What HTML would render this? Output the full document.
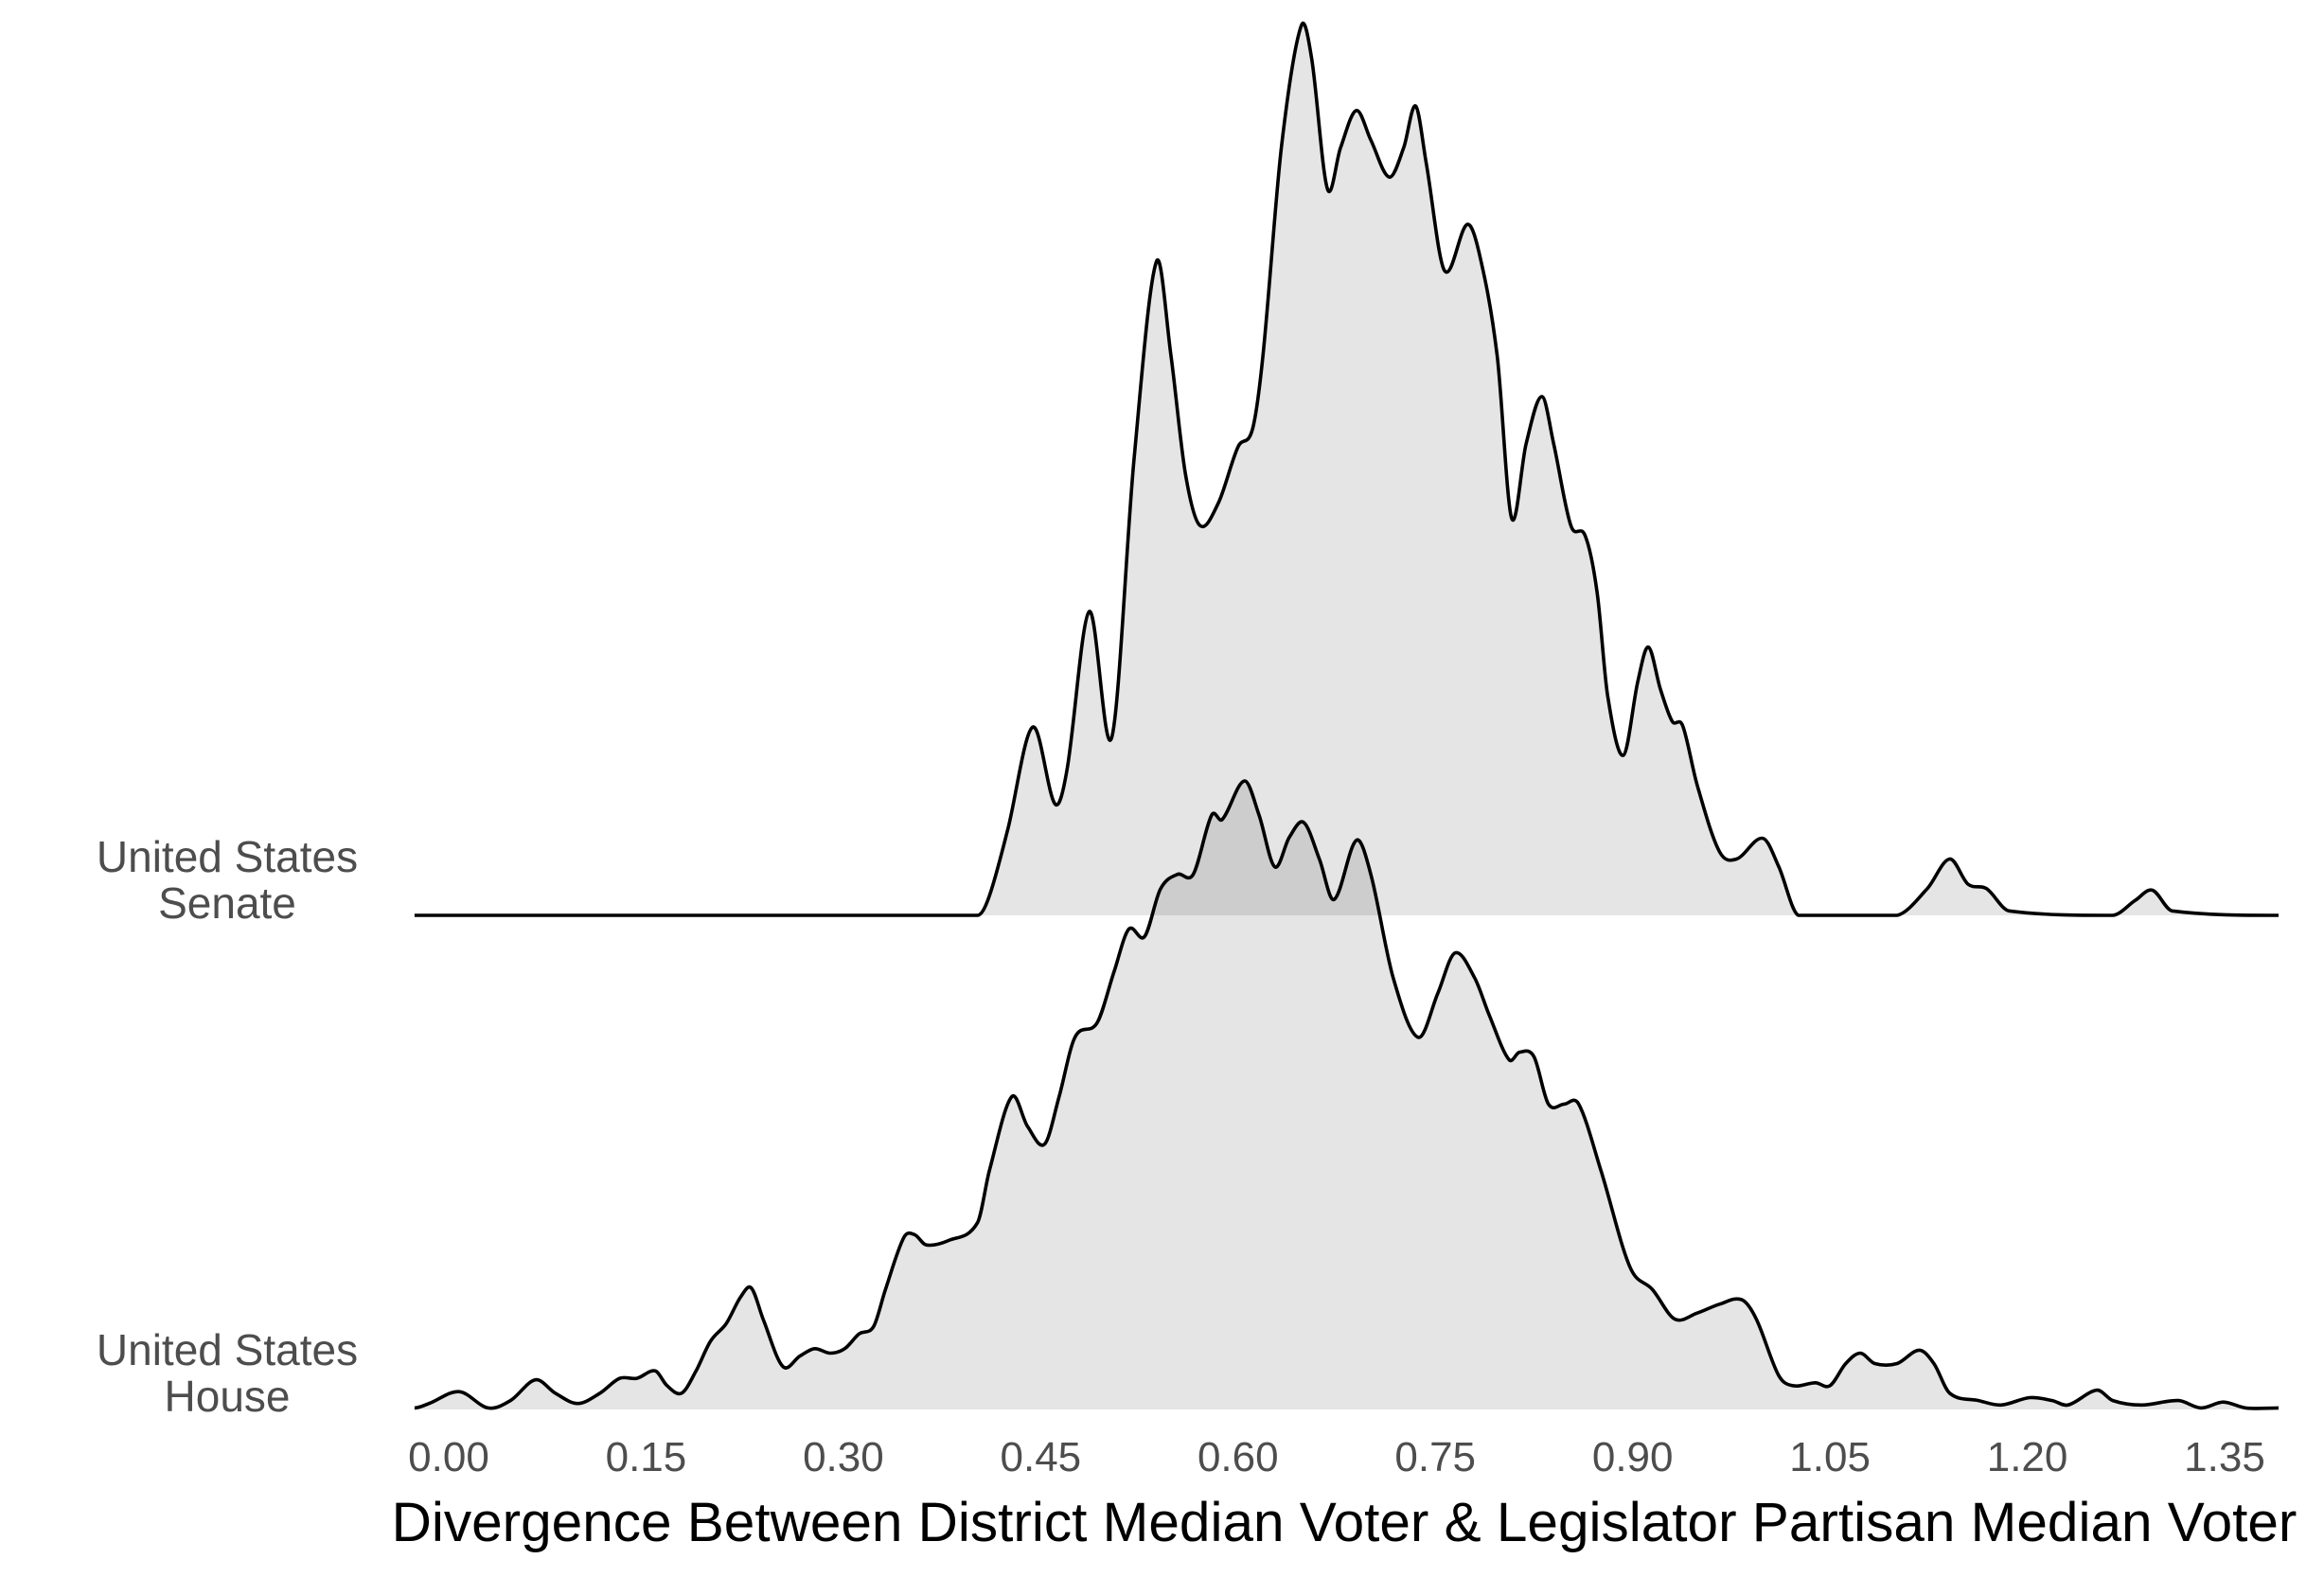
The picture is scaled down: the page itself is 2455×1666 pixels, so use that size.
<!DOCTYPE html>
<html><head><meta charset="utf-8"><style>
html,body{margin:0;padding:0;background:#fff;}
svg{display:block;font-family:"Liberation Sans",sans-serif;}
</style></head><body>
<svg id="chart" width="2455" height="1666" viewBox="0 0 2455 1666" xmlns="http://www.w3.org/2000/svg">
<g id="ridges"></g>
<g id="xticks"></g>
<g font-size="46" fill="#4d4d4d" text-anchor="middle">
<text x="240" y="921">United States</text>
<text x="240" y="970">Senate</text>
<text x="240" y="1442">United States</text>
<text x="240" y="1491">House</text>
</g>
<text x="1420" y="1628" font-size="58.5" fill="#000" text-anchor="middle">Divergence Between District Median Voter &amp; Legislator Partisan Median Voter</text>
</svg>
<script>
const tickValues=[0,0.15,0.30,0.45,0.60,0.75,0.90,1.05,1.20,1.35];
const tickLabels=["0.00","0.15","0.30","0.45","0.60","0.75","0.90","1.05","1.20","1.35"];
const senateX=[-0.026,.402,.411,.425,.444,.461,.470,.487,.504,.521,.538,.549,.560,.571,.585,.600,.611,.619,.633,.648,.656,.668,.678,.690,.701,.715,.726,.735,.743,.757,.774,.783,.797,.808,.819,.831,.840,.853,.864,.873,.881,.893,.904,.912,.921,.930,.938,.949,.966,.979,.999,1.011,1.026,1.101,1.124,1.141,1.155,1.169,1.186,1.265,1.282,1.295,1.310,1.391];
const senateY=[0,0,.13,.58,1.27,.75,.98,2.05,1.20,3.08,4.41,3.78,2.98,2.63,2.78,3.16,3.28,3.78,5.18,6.00,5.78,4.90,5.18,5.43,5.23,4.98,5.18,5.46,5.08,4.35,4.66,4.48,3.78,2.68,3.18,3.50,3.18,2.63,2.56,2.18,1.48,1.08,1.58,1.81,1.53,1.31,1.28,.88,.43,.38,.52,.33,0,0,.18,.38,.21,.18,.03,0,.10,.17,.03,0];
const houseX=[-0.026,-0.015,0.008,0.030,0.047,0.066,0.081,0.098,0.115,0.130,0.143,0.157,0.166,0.177,0.188,0.199,0.211,0.222,0.230,0.239,0.254,0.267,0.278,0.290,0.301,0.312,0.323,0.332,0.346,0.354,0.363,0.380,0.402,0.411,0.428,0.440,0.453,0.464,0.476,0.493,0.506,0.517,0.529,0.541,0.554,0.566,0.580,0.588,0.605,0.616,0.628,0.639,0.650,0.662,0.673,0.690,0.701,0.718,0.737,0.752,0.765,0.780,0.791,0.806,0.814,0.825,0.836,0.848,0.859,0.876,0.898,0.915,0.932,0.949,0.966,0.983,0.994,1.011,1.022,1.039,1.050,1.062,1.073,1.084,1.101,1.118,1.129,1.141,1.163,1.180,1.202,1.219,1.231,1.253,1.265,1.287,1.315,1.332,1.349,1.366,1.391];
const houseY=[.01,.04,.12,.01,.06,.20,.11,.04,.11,.21,.21,.26,.16,.11,.26,.46,.58,.76,.82,.61,.29,.36,.41,.38,.41,.51,.56,.81,1.16,1.18,1.11,1.14,1.26,1.61,2.11,1.91,1.79,2.11,2.51,2.61,2.96,3.24,3.19,3.51,3.61,3.61,4.01,3.98,4.24,4.01,3.66,3.86,3.96,3.71,3.44,3.84,3.61,2.91,2.51,2.81,3.08,2.91,2.66,2.36,2.41,2.38,2.06,2.06,2.06,1.61,.96,.81,.61,.65,.71,.74,.61,.23,.16,.18,.16,.31,.38,.31,.31,.40,.31,.11,.06,.03,.08,.06,.03,.13,.06,.03,.06,.01,.05,.01,.01];

const NS="http://www.w3.org/2000/svg";
const xScale=v=>474+v*(2350-474)/1.35;
const hScale=d=>d*156.6;
function pathFor(xs,ys,base){
  const p=xs.map((x,i)=>[xScale(x),base-hScale(ys[i])]);
  const n=p.length;
  const m=p.map((pt,i)=>{
    if(i===0||i===n-1) return 0;
    const a=p[i-1],b=p[i+1];
    return (b[1]-a[1])/(b[0]-a[0]);
  });
  let d="M"+p[0][0].toFixed(1)+","+p[0][1].toFixed(1);
  for(let i=0;i<n-1;i++){
    const dx=p[i+1][0]-p[i][0];
    let c1y=Math.min(p[i][1]+m[i]*dx/3,base), c2y=Math.min(p[i+1][1]-m[i+1]*dx/3,base);
    d+=" C"+(p[i][0]+dx/3).toFixed(1)+","+c1y.toFixed(1)+" "+(p[i+1][0]-dx/3).toFixed(1)+","+c2y.toFixed(1)+" "+p[i+1][0].toFixed(1)+","+p[i+1][1].toFixed(1);
  }
  return {d, x0:p[0][0], x1:p[n-1][0]};
}
const g=document.getElementById('ridges');
function ridge(xs,ys,base,name){
  const r=pathFor(xs,ys,base);
  const fill=document.createElementNS(NS,'path');
  fill.setAttribute('d',r.d+" L"+r.x1+","+base+" L"+r.x0+","+base+" Z");
  fill.setAttribute('fill','#000');fill.setAttribute('fill-opacity','0.1');
  
  
  g.appendChild(fill);
  const line=document.createElementNS(NS,'path');
  line.setAttribute('d',r.d);
  line.setAttribute('fill','none');line.setAttribute('stroke','#000');line.setAttribute('stroke-width','3.6');
  
  
  g.appendChild(line);
}
ridge(senateX,senateY,967,'senate');
ridge(houseX,houseY,1489,'house');
const tg=document.getElementById('xticks');
tickValues.forEach((v,i)=>{
  const t=document.createElementNS(NS,'text');
  t.setAttribute('x',xScale(v));t.setAttribute('y',1554);
  t.setAttribute('font-size','44');t.setAttribute('fill','#4d4d4d');t.setAttribute('text-anchor','middle');
  t.textContent=tickLabels[i];
  
  
  tg.appendChild(t);
});
</script>
</body></html>
